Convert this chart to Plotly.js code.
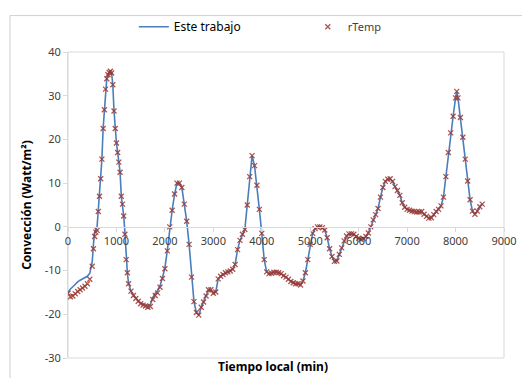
<!DOCTYPE html>
<html>
<head>
<meta charset="utf-8">
<script src="https://cdn.plot.ly/plotly-3.0.1.min.js"></script>
<style>
html,body{margin:0;padding:0;background:#fff;}
#chart{width:522px;height:378px;}
</style>
</head>
<body>
<div id="chart"></div>
<script>
const tiempo = [0,50,100,150,200,250,300,350,400,450,500,525,550,575,600,625,650,675,700,725,750,775,800,825,850,875,900,925,950,975,1000,1025,1050,1075,1100,1125,1150,1175,1200,1225,1250,1300,1350,1400,1450,1500,1550,1600,1650,1700,1750,1800,1850,1900,1950,2000,2050,2100,2150,2200,2250,2300,2350,2400,2450,2500,2550,2600,2650,2700,2750,2800,2850,2900,2950,3000,3050,3100,3150,3200,3250,3300,3350,3400,3450,3500,3550,3600,3650,3700,3750,3800,3850,3900,3950,4000,4050,4100,4150,4200,4250,4300,4350,4400,4450,4500,4550,4600,4650,4700,4750,4800,4850,4900,4950,5000,5050,5100,5150,5200,5250,5300,5350,5400,5450,5500,5550,5600,5650,5700,5750,5800,5850,5900,5950,6000,6050,6100,6150,6200,6250,6300,6350,6400,6450,6500,6550,6600,6650,6700,6750,6800,6850,6900,6950,7000,7050,7100,7150,7200,7250,7300,7350,7400,7450,7500,7550,7600,7650,7700,7750,7800,7850,7900,7950,8000,8025,8050,8100,8150,8200,8250,8300,8350,8400,8450,8500,8550];

const rTemp = [-15.2,-16,-15.8,-15.3,-14.8,-14.4,-14,-13.6,-13,-12,-9,-5,-2.2,-1.2,-0.8,3.5,7,11,15.5,22.5,26.8,31.5,33.9,34.8,35.3,35.6,35.2,32.5,26.5,22.5,19.2,17,14.8,12.5,7,5.2,2.5,-1.7,-7.5,-10.5,-13,-14.7,-15.7,-16.4,-17,-17.6,-17.9,-18.1,-18.4,-18.2,-16.6,-15.7,-15.1,-13.8,-11.8,-9.6,-5.5,0,3.8,7.5,10,10,9,5.2,1.3,-4,-11.5,-17.1,-19.6,-20.2,-18.4,-17.2,-15.8,-14.4,-14.4,-15.2,-14.9,-11.9,-11.3,-10.9,-10.5,-10.3,-10.1,-9.7,-8.6,-5.2,-3.1,-1.7,-0.6,5,11.5,16.3,14,9.5,4,-1.5,-7.5,-10.3,-10.7,-10.6,-10.4,-10.4,-10.5,-10.7,-11.2,-11.5,-12,-12.5,-12.8,-13,-13,-13.3,-12.4,-10.5,-7.5,-4,-1.5,-0.4,0,0,-0.2,-0.7,-2.5,-5,-6.8,-7.9,-7.8,-6.3,-4.8,-3.2,-2.1,-1.6,-1.6,-1.7,-2.2,-2.6,-2.9,-2.7,-2.2,-1.4,0,1.6,2.8,4.2,6.8,9,10.4,10.9,11,10.4,9.2,8.3,7.2,5.5,4.5,4,3.8,3.6,3.5,3.4,3.4,3.5,2.9,2.4,2,2.1,2.8,3.5,4,4.8,6.8,11.5,17,21.5,25.3,29.5,31,29.5,25,20.5,15.5,10.5,6.2,3.6,2.9,3.6,4.6,5.2];

const esteTrabajo = [-15,-14.2,-13.7,-13.1,-12.6,-12.2,-11.9,-11.6,-11.3,-10.6,-8,-4,-1.2,-0.6,0,3.8,7.2,11,15.5,22.5,26.8,31.5,33.9,34.8,35.3,35.6,35.2,32.5,26.5,22.5,19.2,17,14.8,12.5,7,5.2,2.5,-1.2,-7,-10.5,-13,-14.7,-15.6,-16.3,-16.9,-17.4,-17.7,-17.9,-18.1,-17.8,-16.2,-15.2,-14.6,-13.5,-11.6,-9.4,-5.4,0,3.8,7.5,10,10,9,5.2,1.3,-4,-11.5,-17.1,-19.6,-20.2,-18.4,-17.2,-15.8,-14.4,-14.4,-15.2,-14.9,-11.9,-11.3,-10.9,-10.5,-10.3,-10.1,-9.7,-8.6,-5.2,-3.1,-1.7,-0.6,5,11.5,16.3,14,9.5,4,-1.5,-7.5,-10.3,-10.7,-10.6,-10.4,-10.4,-10.5,-10.7,-11.2,-11.5,-12,-12.5,-12.8,-13,-13,-13.3,-12.4,-10.5,-7.5,-4,-1.5,-0.4,0,0,-0.2,-0.7,-2.5,-5,-6.8,-7.9,-7.8,-6.3,-4.8,-3.2,-2.1,-1.6,-1.6,-1.7,-2.2,-2.6,-2.9,-2.7,-2.2,-1.4,0,1.6,2.8,4.2,6.8,9,10.4,10.9,11,10.4,9.2,8.3,7.2,5.5,4.5,4,3.8,3.6,3.5,3.4,3.4,3.5,2.9,2.4,2,2.1,2.8,3.5,4,4.8,6.8,11.5,17,21.5,25.3,29.5,31,29.5,25,20.5,15.5,10.5,6.2,3.6,2.9,3.6,4.6,5.2];

const xTicks = [0,1000,2000,3000,4000,5000,6000,7000,8000,9000];
const yTicks = [-30,-20,-10,0,10,20,30,40];

const FONT = 'Noto Sans, Open Sans, sans-serif';
const yMin = -30, yMax = 40;

const traces = [
  {
    x: tiempo, y: esteTrabajo, name: 'Este trabajo', type: 'scatter', mode: 'lines',
    line: {color: '#4a7ebb', width: 1.6}, legend: 'legend'
  },
  {
    x: tiempo, y: rTemp, name: 'rTemp', type: 'scatter', mode: 'markers',
    marker: {symbol: 'x-thin', size: 5, color: 'rgba(155,55,50,0.85)', line: {color: 'rgba(155,55,50,0.85)', width: 1.3}},
    legend: 'legend2'
  }
];

const legBase = {
  orientation: 'h', y: 1.13, xanchor: 'left', yanchor: 'top',
  font: {family: FONT, size: 12, color: '#000'}, bgcolor: 'rgba(0,0,0,0)'
};

const layout = {
  width: 522, height: 378,
  margin: {l: 68, r: 18, t: 47, b: 20},
  paper_bgcolor: '#ffffff', plot_bgcolor: '#ffffff',
  font: {family: FONT, size: 11, color: '#404040'},
  showlegend: true,
  legend: Object.assign({}, legBase, {x: 0.151}),
  legend2: Object.assign({}, legBase, {x: 0.55, font: {family: FONT, size: 11, color: '#404040'}}),
  xaxis: {
    range: [0, 9000], tickvals: xTicks, ticktext: xTicks.map(String),
    showgrid: false, zeroline: false,
    showline: true, linecolor: '#d9d9d9', linewidth: 1,
    ticks: 'outside', ticklen: 4, tickcolor: '#d9d9d9',
    anchor: 'free', position: (0 - yMin) / (yMax - yMin),
    tickfont: {family: FONT, size: 11, color: '#404040'}
  },
  yaxis: {
    range: [yMin, yMax], tickvals: yTicks, ticktext: yTicks.map(String),
    showgrid: false, zeroline: false,
    showline: true, linecolor: '#d9d9d9', linewidth: 1,
    ticks: 'outside', ticklen: 4, tickcolor: '#d9d9d9',
    tickfont: {family: FONT, size: 11, color: '#404040'},
    title: {text: '<b>Convección (Watt/m²)</b>', font: {family: FONT, size: 12, color: '#000'}, standoff: 10}
  },
  annotations: [
    {text: '<b>Tiempo local (min)</b>', xref: 'paper', yref: 'paper', x: 0.47, y: -0.029,
     xanchor: 'center', yanchor: 'middle', showarrow: false, font: {family: FONT, size: 12, color: '#000'}}
  ],
  shapes: [
    {type: 'rect', xref: 'paper', yref: 'paper', x0: 0, x1: 1, y0: 0, y1: 1,
     line: {color: '#d9d9d9', width: 1}, layer: 'below'},
    {type: 'rect', xref: 'paper', yref: 'paper', x0: -0.133, x1: 1.2, y0: -0.3, y1: 1.119,
     line: {color: '#d0d0d0', width: 1}, layer: 'below'}
  ]
};

Plotly.newPlot('chart', traces, layout, {displayModeBar: false, staticPlot: true});
</script>
</body>
</html>
